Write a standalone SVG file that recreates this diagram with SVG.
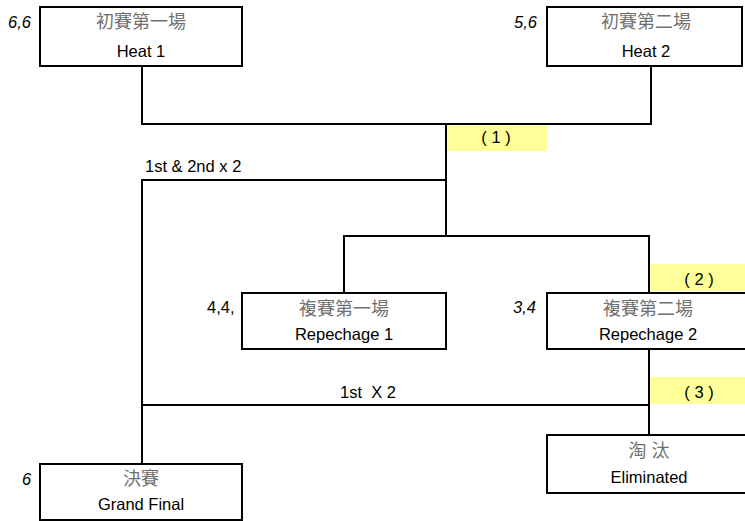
<svg xmlns="http://www.w3.org/2000/svg" width="745" height="521" viewBox="0 0 745 521">
<style>
.box{fill:#fff;stroke:#000;stroke-width:2}
.ln{fill:none;stroke:#000;stroke-width:2}
.hl{fill:#ffff99}
.cjk{font-family:"Liberation Sans","Noto Sans CJK TC",sans-serif;font-size:18px;fill:#707070;text-anchor:middle}
.en{font-family:"Liberation Sans",sans-serif;font-size:16.5px;fill:#000;text-anchor:middle}
.lab{font-family:"Liberation Sans",sans-serif;font-size:16.5px;fill:#000}
.it{font-style:italic}
</style>
<rect width="745" height="521" fill="#fff"/>
<g id="highlights">
<rect class="hl" x="447" y="125" width="100" height="26"/>
<rect class="hl" x="650" y="264" width="95" height="27"/>
<rect class="hl" x="650" y="377" width="95" height="27"/>
</g>
<g id="connectors">
<polyline class="ln" points="142,66 142,124 651,124 651,66"/>
<line class="ln" x1="446" y1="124" x2="446" y2="236"/>
<polyline class="ln" points="446,180 142,180 142,464"/>
<polyline class="ln" points="344,293 344,236 649,236 649,293"/>
<line class="ln" x1="649" y1="349" x2="649" y2="435"/>
<line class="ln" x1="142" y1="405" x2="649" y2="405"/>
</g>
<g id="heat1">
<rect class="box" x="40" y="7" width="202" height="59"/>
<text class="cjk" x="141" y="28">初賽第一場</text>
<text class="en" x="141" y="57">Heat 1</text>
<text class="lab it" x="8" y="28">6,6</text>
</g>
<g id="heat2">
<rect class="box" x="547" y="7" width="195" height="59"/>
<text class="cjk" x="646" y="28">初賽第二場</text>
<text class="en" x="646" y="57">Heat 2</text>
<text class="lab it" x="514" y="28">5,6</text>
</g>
<g id="repechage1">
<rect class="box" x="242" y="293" width="204" height="56"/>
<text class="cjk" x="344" y="315">複賽第一場</text>
<text class="en" x="344" y="340">Repechage 1</text>
<text class="lab" x="207" y="313">4,4,</text>
</g>
<g id="repechage2">
<rect class="box" x="547" y="293" width="200" height="56"/>
<text class="cjk" x="648" y="315">複賽第二場</text>
<text class="en" x="648" y="340">Repechage 2</text>
<text class="lab it" x="513" y="313">3,4</text>
</g>
<g id="final">
<rect class="box" x="40" y="464" width="202" height="56"/>
<text class="cjk" x="141" y="485">決賽</text>
<text class="en" x="141" y="510">Grand Final</text>
<text class="lab it" x="22" y="485">6</text>
</g>
<g id="eliminated">
<rect class="box" x="547" y="435" width="200" height="58"/>
<text class="cjk" x="649" y="457">淘 汰</text>
<text class="en" x="649" y="483">Eliminated</text>
</g>
<g id="labels">
<text class="en" x="496" y="143">( 1 )</text>
<text class="en" x="699" y="285">( 2 )</text>
<text class="en" x="699" y="398">( 3 )</text>
<text class="lab" x="145" y="172">1st &amp; 2nd x 2</text>
<text class="en" x="368" y="398" xml:space="preserve">1st  X 2</text>
</g>
</svg>
